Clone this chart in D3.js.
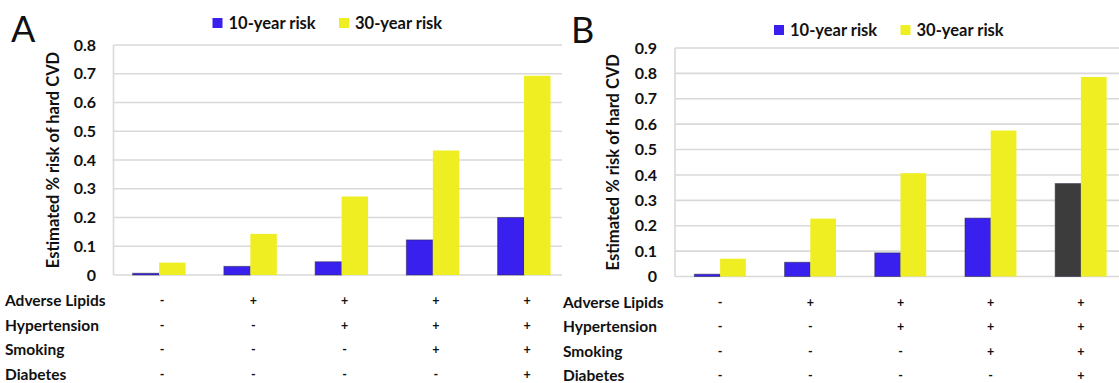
<!DOCTYPE html>
<html>
<head>
<meta charset="utf-8">
<script src="https://cdn.jsdelivr.net/npm/d3@7"></script>
<style>
  html, body { margin: 0; padding: 0; background: #fff; }
  svg { display: block; }
  text { font-family: Lato, "Open Sans", sans-serif; fill: #111; }
</style>
</head>
<body>
<svg id="chart" width="1119" height="383"></svg>
<script>
// Risk-factor profiles (one per bar group)
const profiles = ["none", "lipids", "lipids+htn", "lipids+htn+smk", "all four"];
const seriesNames = ["10-year risk", "30-year risk"];
const riskFactors = ["Adverse Lipids", "Hypertension", "Smoking", "Diabetes"];
const factorSigns = [
  ["-", "+", "+", "+", "+"],
  ["-", "-", "+", "+", "+"],
  ["-", "-", "-", "+", "+"],
  ["-", "-", "-", "-", "+"]
];

// Panel A
const riskA10 = [0.006, 0.03, 0.046, 0.122, 0.200];
const riskA30 = [0.043, 0.143, 0.273, 0.433, 0.693];
const ticksA = [0, 0.1, 0.2, 0.3, 0.4, 0.5, 0.6, 0.7, 0.8];

// Panel B
const riskB10 = [0.009, 0.056, 0.093, 0.230, 0.366];
const riskB30 = [0.070, 0.228, 0.407, 0.575, 0.786];
const ticksB = [0, 0.1, 0.2, 0.3, 0.4, 0.5, 0.6, 0.7, 0.8, 0.9];

const colors = { ten: "#3a20ee", thirty: "#eeee22", highlight: "#3c3c3c" };
const gridColor = "#d9d9d9";

const svg = d3.select("#chart");

function drawPanel(cfg) {
  const g = svg.append("g");

  const y = d3.scaleLinear().domain([0, cfg.yMax]).range([cfg.yZero, cfg.yTop]);
  const x = d3.scaleBand().domain(d3.range(profiles.length))
    .range([cfg.plotLeft, cfg.bandRight]).padding(0);
  const bw = x.bandwidth();
  const inner = (1 - cfg.pairFrac) / 2;
  const xs = d3.scaleBand().domain(seriesNames).range([bw * inner, bw * (1 - inner)]);

  // horizontal gridlines
  g.append("g").selectAll("line").data(cfg.ticks).join("line")
    .attr("x1", cfg.plotLeft).attr("x2", cfg.gridRight)
    .attr("y1", d => y(d)).attr("y2", d => y(d))
    .attr("stroke", gridColor).attr("stroke-width", 1.6);
  // left edge of plot area
  g.append("line")
    .attr("x1", cfg.plotLeft).attr("x2", cfg.plotLeft)
    .attr("y1", y(cfg.yMax)).attr("y2", y(0))
    .attr("stroke", gridColor).attr("stroke-width", 1.6);

  // y axis tick labels
  const yAxis = d3.axisLeft(y).tickValues(cfg.ticks).tickSize(0).tickPadding(0)
    .tickFormat(d => d === 0 ? "0" : d3.format(".1f")(d));
  const ax = g.append("g").attr("transform", `translate(${cfg.tickRight},0)`).call(yAxis);
  ax.select(".domain").remove();
  ax.selectAll("text")
    .attr("font-family", "Lato, 'Open Sans', sans-serif")
    .attr("font-size", 16).attr("font-weight", 700).attr("fill", "#111");

  // y axis title
  g.append("text")
    .attr("transform", `translate(${cfg.titleX},${(y(0) + y(cfg.yMax)) / 2}) rotate(-90)`)
    .attr("text-anchor", "middle").attr("dy", "0.35em")
    .attr("font-size", 16.5).attr("font-weight", 700)
    .text("Estimated % risk of hard CVD");

  // bars
  const rows = profiles.map((p, i) => ({ i, vals: [cfg.ten[i], cfg.thirty[i]] }));
  const grp = g.append("g").selectAll("g").data(rows).join("g")
    .attr("transform", d => `translate(${x(d.i)},0)`);
  grp.selectAll("rect")
    .data(d => d.vals.map((v, k) => ({ v, k, i: d.i })))
    .join("rect")
    .attr("x", d => xs(seriesNames[d.k]))
    .attr("width", xs.bandwidth())
    .attr("y", d => y(d.v))
    .attr("height", d => y(0) - y(d.v))
    .attr("fill", d => d.k === 1 ? colors.thirty
      : (cfg.highlightLast && d.i === profiles.length - 1 ? colors.highlight : colors.ten))
    .attr("stroke", d => d.k === 1 ? "none" : "rgba(40,40,70,0.55)")
    .attr("stroke-width", 1);

  // legend
  const leg = g.append("g").attr("transform", `translate(${cfg.legendX},${cfg.legendY})`);
  const legColors = [colors.ten, colors.thirty];
  seriesNames.forEach((name, k) => {
    const lx = k * 126.5;
    leg.append("rect").attr("x", lx).attr("y", -5).attr("width", 10).attr("height", 10)
      .attr("fill", legColors[k]);
    leg.append("text").attr("x", lx + 16).attr("y", 0).attr("dy", "0.36em")
      .attr("font-size", 16.5).attr("font-weight", 700).text(name);
  });

  // panel letter
  g.append("text").attr("x", cfg.letterX).attr("y", cfg.letterY)
    .attr("font-family", "'Liberation Sans', Arial, sans-serif")
    .attr("font-size", 36).text(cfg.letter);

  // risk-factor table under the bars
  riskFactors.forEach((rf, r) => {
    const ry = cfg.rowY0 + r * 24.5;
    g.append("text").attr("x", cfg.tableLabelX).attr("y", ry).attr("dy", "0.35em")
      .attr("font-size", 15.5).attr("font-weight", 700).text(rf);
    g.append("g").selectAll("text").data(factorSigns[r]).join("text")
      .attr("x", (d, i) => x(i) + bw / 2 + cfg.signOffset)
      .attr("y", ry).attr("dy", "0.35em")
      .attr("text-anchor", "middle")
      .attr("font-size", 12.5).attr("font-weight", 700)
      .attr("fill", d => d === "+" ? "#222" : "#666")
      .text(d => d);
  });
}

drawPanel({
  letter: "A", letterX: 11, letterY: 42,
  plotLeft: 113.5, bandRight: 569.7, gridRight: 562, pairFrac: 0.58,
  yTop: 45, yZero: 275, yMax: 0.8, ticks: ticksA,
  tickRight: 96, titleX: 53,
  legendX: 212.5, legendY: 23,
  tableLabelX: 5, rowY0: 301, signOffset: 3,
  ten: riskA10, thirty: riskA30, highlightLast: false
});

drawPanel({
  letter: "B", letterX: 571, letterY: 43,
  plotLeft: 675, bandRight: 1126, gridRight: 1119, pairFrac: 0.57,
  yTop: 48, yZero: 276.5, yMax: 0.9, ticks: ticksB,
  tickRight: 657, titleX: 613,
  legendX: 774, legendY: 30,
  tableLabelX: 563, rowY0: 302.5, signOffset: 0,
  ten: riskB10, thirty: riskB30, highlightLast: true
});
</script>
</body>
</html>
